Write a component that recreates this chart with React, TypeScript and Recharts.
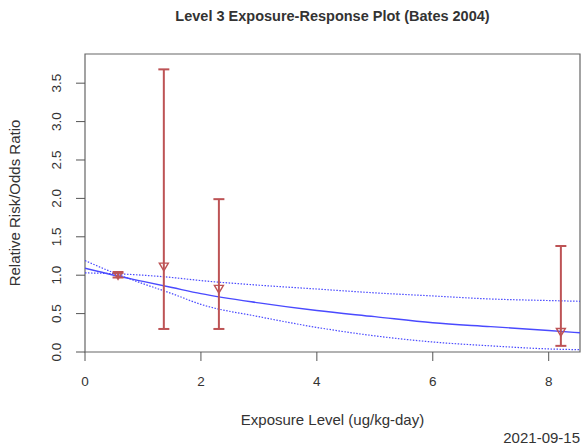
import React from 'react';
import { ComposedChart, Line, Scatter, ErrorBar, XAxis, YAxis, ReferenceArea } from 'recharts';

// fitted curve and its confidence band
const curveX = [0, 0.5, 1, 1.5, 2, 3, 4, 5, 6, 7, 8, 8.54];
const fitRR = [1.09, 1.0, 0.92, 0.84, 0.76, 0.64, 0.54, 0.46, 0.38, 0.33, 0.28, 0.25];
const upperRR = [1.03, 1.02, 1.0, 0.97, 0.93, 0.87, 0.82, 0.77, 0.73, 0.69, 0.67, 0.66];
const lowerRR = [1.19, 1.03, 0.89, 0.76, 0.62, 0.46, 0.32, 0.21, 0.13, 0.08, 0.04, 0.03];

// study points with confidence limits
const exposure = [0.57, 1.36, 2.31, 8.21];
const studyRR = [1.0, 1.11, 0.82, 0.26];
const ciLow = [0.97, 0.3, 0.3, 0.08];
const ciHigh = [1.03, 3.68, 1.99, 1.38];

const xTicks = [0, 2, 4, 6, 8];
const yTicks = [0, 0.5, 1, 1.5, 2, 2.5, 3, 3.5];

const curveData = curveX.map((x, i) => ({ x, fit: fitRR[i], upper: upperRR[i], lower: lowerRR[i] }));
const pointData = exposure.map((x, i) => ({
  x,
  y: studyRR[i],
  err: [studyRR[i] - ciLow[i], ciHigh[i] - studyRR[i]],
}));

const RED = '#bd5355';
const BLUE = '#4a4aff';
const FONT = '"Liberation Sans", Arial, sans-serif';

const DownTriangle = (props: any) => {
  const { cx, cy } = props;
  if (cx == null || cy == null) return null;
  const s = 4.5;
  return (
    <path
      d={`M${cx - s},${cy - s * 0.8} L${cx + s},${cy - s * 0.8} L${cx},${cy + s * 0.9} Z`}
      fill="none"
      stroke={RED}
      strokeWidth={1.4}
    />
  );
};

const YTick = (props: any) => {
  const { x, y, payload } = props;
  const bx = x - 15;
  return (
    <text
      x={bx}
      y={y}
      transform={`rotate(-90, ${bx}, ${y})`}
      textAnchor="middle"
      fontSize={13.5}
      fontFamily={FONT}
      fill="#333"
    >
      {payload.value.toFixed(1)}
    </text>
  );
};

const App: React.FC = () => {
  return (
    <div style={{ position: 'absolute', left: 0, top: 0, width: 588, height: 448, background: '#fff', fontFamily: FONT }}>
      <div
        style={{
          position: 'absolute', left: 85, width: 495, top: 8, textAlign: 'center',
          fontSize: 14.5, fontWeight: 'bold', color: '#333', lineHeight: '17px',
        }}
      >
        Level 3 Exposure-Response Plot (Bates 2004)
      </div>
      <div
        style={{
          position: 'absolute', left: 85, width: 495, top: 411, textAlign: 'center',
          fontSize: 15, color: '#333', lineHeight: '17px',
        }}
      >
        Exposure Level (ug/kg-day)
      </div>
      <div style={{ position: 'absolute', right: 8, top: 429, fontSize: 15, color: '#333', lineHeight: '17px' }}>2021-09-15</div>
      <svg style={{ position: 'absolute', left: 0, top: 0 }} width={40} height={448}>
        <text
          x={20}
          y={203}
          transform="rotate(-90, 20, 203)"
          textAnchor="middle"
          fontSize={15}
          fontFamily={FONT}
          fill="#333"
        >
          Relative Risk/Odds Ratio
        </text>
      </svg>
      <div style={{ position: 'absolute', left: 0, top: 0 }}>
        <ComposedChart width={588} height={448} margin={{ top: 54, right: 8, bottom: 16, left: 45 }}>
          <XAxis
            dataKey="x"
            type="number"
            domain={[0, 8.54]}
            ticks={xTicks}
            allowDataOverflow
            height={80}
            axisLine={false}
            tickLine={{ stroke: '#555', strokeWidth: 1 }}
            tickSize={9}
            tickMargin={15}
            tick={{ fontSize: 13.5, fill: '#333', fontFamily: FONT }}
          />
          <YAxis
            type="number"
            domain={[0, 3.88]}
            ticks={yTicks}
            allowDataOverflow
            width={40}
            axisLine={false}
            tickLine={{ stroke: '#555', strokeWidth: 1 }}
            tickSize={9}
            tickMargin={0}
            tick={<YTick />}
          />
          <ReferenceArea x1={0} x2={8.54} y1={0} y2={3.88} fill="none" stroke="#666" strokeWidth={1.2} />
          <Line data={curveData} dataKey="upper" type="monotone" stroke={BLUE} strokeWidth={1.2} strokeDasharray="1.5 1.5" dot={false} activeDot={false} isAnimationActive={false} />
          <Line data={curveData} dataKey="lower" type="monotone" stroke={BLUE} strokeWidth={1.2} strokeDasharray="1.5 1.5" dot={false} activeDot={false} isAnimationActive={false} />
          <Line data={curveData} dataKey="fit" type="monotone" stroke={BLUE} strokeWidth={1.4} dot={false} activeDot={false} isAnimationActive={false} />
          <Scatter data={pointData} dataKey="y" shape={<DownTriangle />} isAnimationActive={false}>
            <ErrorBar dataKey="err" direction="y" width={5.5} stroke={RED} strokeWidth={2} />
          </Scatter>
        </ComposedChart>
      </div>
    </div>
  );
};

export default App;
